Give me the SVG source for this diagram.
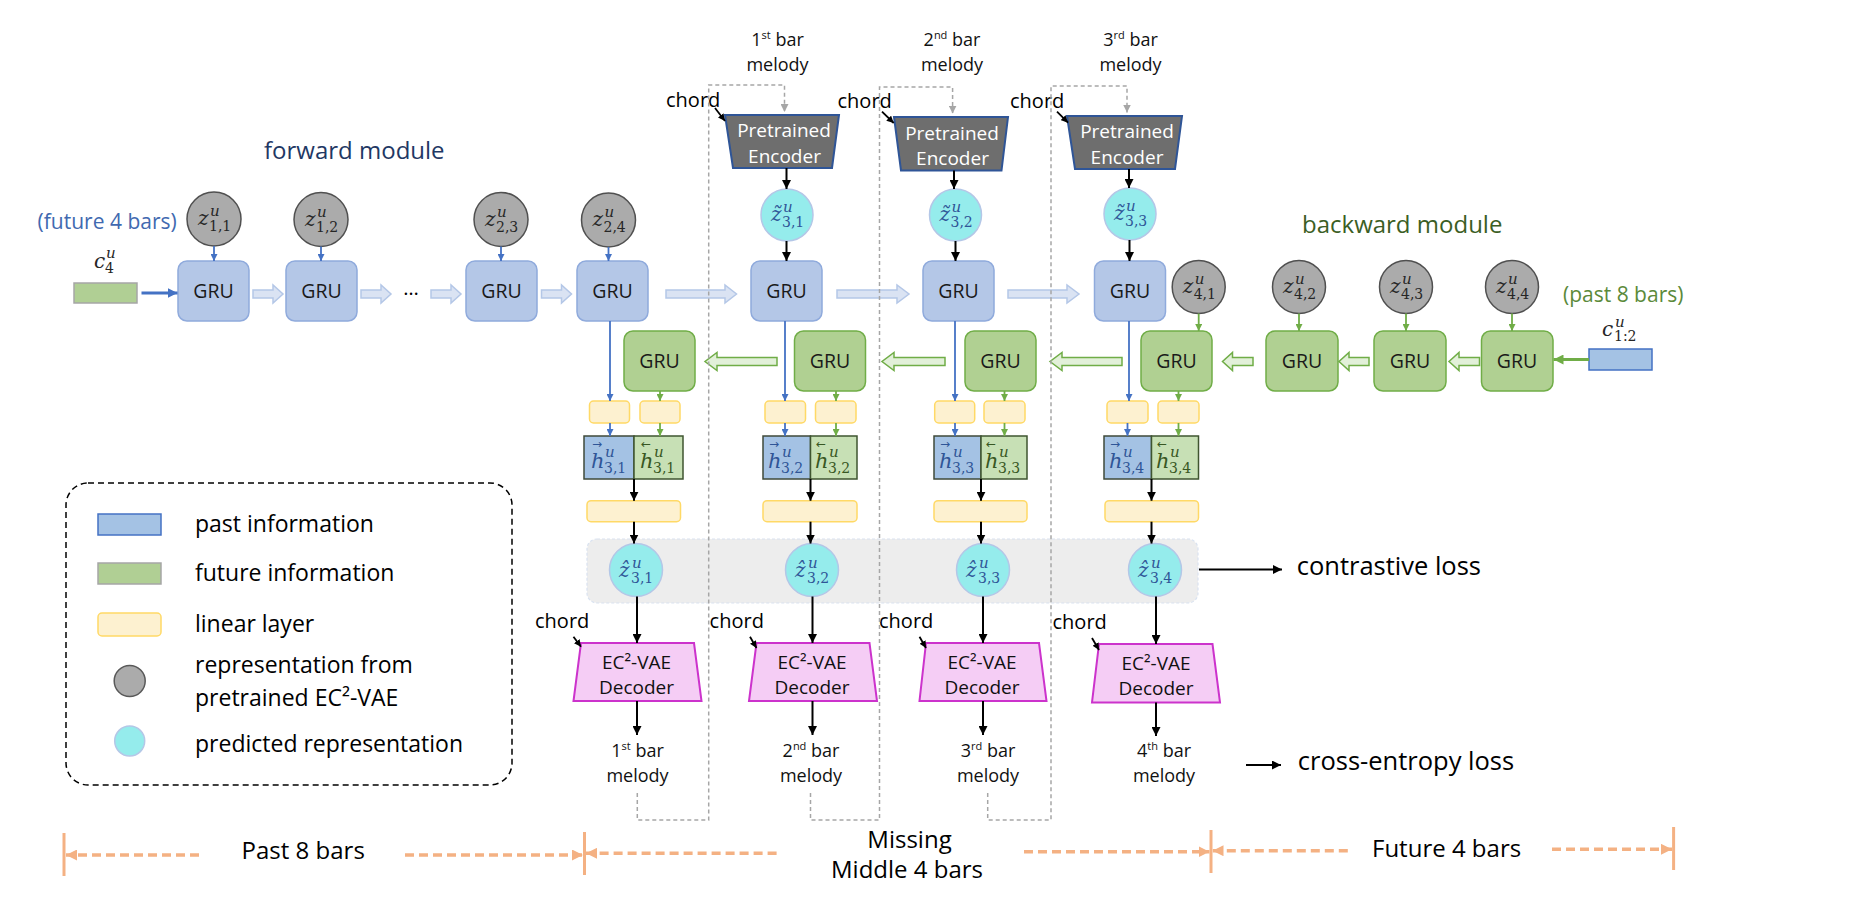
<svg xmlns="http://www.w3.org/2000/svg" width="1872" height="904" viewBox="0 0 1872 904">
<defs>
<style>
text{font-family:"Open Sans","Noto Sans","DejaVu Sans",sans-serif;}
.gb{fill:#B4C7E7;stroke:#8FAADC;stroke-width:1.5}
.gg{fill:#B0D092;stroke:#70AD47;stroke-width:1.5}
.gt{font-size:19.5px;fill:#1a1a1a;text-anchor:middle}
.zc{fill:#ABABAB;stroke:#505050;stroke-width:1.5}
.cc{fill:#95ECEC;stroke:#B4C7E7;stroke-width:1.5}
.lin{fill:#FDF1D0;stroke:#FFD966;stroke-width:1.5}
.hb{fill:#A4C2E4;stroke:#3F4A3A;stroke-width:1.5}
.hg{fill:#C7E0B5;stroke:#3F5530;stroke-width:1.5}
.enc{fill:#6E6E6E;stroke:#2F5597;stroke-width:2}
.dec{fill:#F5CDF5;stroke:#CC33CC;stroke-width:2}
.et{font-size:19px;fill:#ffffff;text-anchor:middle}
.dt{font-size:19px;fill:#111;text-anchor:middle}
.lbl{font-size:18px;fill:#111;text-anchor:middle}
.ch{font-size:20px;fill:#000}
.m{font-family:"DejaVu Serif",serif;font-style:italic;font-size:20px}
.mh{font-size:21px}
.su{font-size:15px}
.s{font-size:14px;font-style:normal}
.zg{fill:#262626}
.zb{fill:#2F5597}
.zgr{fill:#385723}
.ar{font-family:"DejaVu Sans",sans-serif;font-size:12px;font-style:normal}
.hob{fill:#DAE3F3;stroke:#B4C7E7;stroke-width:1.5}
.hog{fill:#E2F0D9;stroke:#70AD47;stroke-width:1.5}
.lb{stroke:#4472C4;stroke-width:1.8;fill:none}
.lg{stroke:#70AD47;stroke-width:1.8;fill:none}
.lk{stroke:#000;stroke-width:2;fill:none}
.lks{stroke:#000;stroke-width:1.8;fill:none}
.dash{stroke:#A6A6A6;stroke-width:1.5;fill:none;stroke-dasharray:4 3}
.or{stroke:#F4B183;stroke-width:3.5;fill:none;stroke-dasharray:9 5}
.ot{stroke:#F4B183;stroke-width:3;fill:none}
.big{font-size:24px;fill:#000}
.loss{font-size:25.5px;fill:#000}
.leg{font-size:23px;fill:#000}
</style>
<marker id="ab" viewBox="0 0 10 10" refX="10" refY="5" markerWidth="7" markerHeight="7" orient="auto" markerUnits="userSpaceOnUse"><path d="M0,0L10,5L0,10z" fill="#4472C4"/></marker>
<marker id="abt" viewBox="0 0 10 10" refX="10" refY="5" markerWidth="10" markerHeight="10" orient="auto" markerUnits="userSpaceOnUse"><path d="M0,0L10,5L0,10z" fill="#4472C4"/></marker>
<marker id="ag" viewBox="0 0 10 10" refX="10" refY="5" markerWidth="7" markerHeight="7" orient="auto" markerUnits="userSpaceOnUse"><path d="M0,0L10,5L0,10z" fill="#70AD47"/></marker>
<marker id="agt" viewBox="0 0 10 10" refX="10" refY="5" markerWidth="10" markerHeight="10" orient="auto" markerUnits="userSpaceOnUse"><path d="M0,0L10,5L0,10z" fill="#70AD47"/></marker>
<marker id="ak" viewBox="0 0 10 10" refX="10" refY="5" markerWidth="9" markerHeight="9" orient="auto" markerUnits="userSpaceOnUse"><path d="M0,0L10,5L0,10z" fill="#000"/></marker>
<marker id="aks" viewBox="0 0 10 10" refX="10" refY="5" markerWidth="7" markerHeight="7" orient="auto" markerUnits="userSpaceOnUse"><path d="M0,0L10,5L0,10z" fill="#000"/></marker>
<marker id="agr" viewBox="0 0 10 10" refX="10" refY="5" markerWidth="8" markerHeight="8" orient="auto" markerUnits="userSpaceOnUse"><path d="M0,0L10,5L0,10z" fill="#A6A6A6"/></marker>
<marker id="ao" viewBox="0 0 10 10" refX="10" refY="5" markerWidth="11" markerHeight="11" orient="auto" markerUnits="userSpaceOnUse"><path d="M0,0L10,5L0,10z" fill="#F4B183"/></marker>
</defs>
<rect width="1872" height="904" fill="#ffffff"/>

<g id="band"><rect x="587" y="539" width="611" height="64" rx="10" fill="#EDEDED" stroke="#D9E2F0" stroke-width="1.2" stroke-dasharray="3 2"/></g>

<g id="titles">
<text x="264" y="159" font-size="24" fill="#1F3864">forward module</text>
<text x="37.6" y="229" font-size="21" fill="#4169B0">(future 4 bars)</text>
<text x="1302" y="232.7" font-size="24" fill="#3B5E24">backward module</text>
<text x="1563" y="301.7" font-size="21" fill="#5B8A3A">(past 8 bars)</text>
</g>

<g id="c4">
<rect x="74" y="283" width="63" height="20" fill="#B0CF94" stroke="#A6A6A6" stroke-width="1.5"/>
<text class="m zg"><tspan x="94" y="268">c</tspan><tspan class="su" x="106" y="258">u</tspan><tspan class="s" x="105" y="273">4</tspan></text>
</g>
<g id="c12">
<rect x="1589" y="349" width="63" height="21" fill="#A4C2E4" stroke="#4472C4" stroke-width="1.5"/>
<text class="m zg"><tspan x="1602" y="336">c</tspan><tspan class="su" x="1615" y="327">u</tspan><tspan class="s" x="1614" y="341">1:2</tspan></text>
</g>

<g id="gru1"><rect class="gb" x="178" y="261" width="71" height="60" rx="9"/><text class="gt" x="213.5" y="298">GRU</text></g>
<g id="gru2"><rect class="gb" x="286" y="261" width="71" height="60" rx="9"/><text class="gt" x="321.5" y="298">GRU</text></g>
<g id="dots"><text x="411" y="295" font-size="20" text-anchor="middle" fill="#000">…</text></g>
<g id="gru3"><rect class="gb" x="466" y="261" width="71" height="60" rx="9"/><text class="gt" x="501.5" y="298">GRU</text></g>
<g id="gru4"><rect class="gb" x="577" y="261" width="71" height="60" rx="9"/><text class="gt" x="612.5" y="298">GRU</text></g>
<g id="gru5"><rect class="gb" x="751" y="261" width="71" height="60" rx="9"/><text class="gt" x="786.5" y="298">GRU</text></g>
<g id="gru6"><rect class="gb" x="923" y="261" width="71" height="60" rx="9"/><text class="gt" x="958.5" y="298">GRU</text></g>
<g id="gru7"><rect class="gb" x="1094.5" y="261" width="71" height="60" rx="9"/><text class="gt" x="1130" y="298">GRU</text></g>

<g id="z11"><circle class="zc" cx="214" cy="219" r="27"/><text class="m zg"><tspan x="198" y="225">z</tspan><tspan class="su" x="210" y="216">u</tspan><tspan class="s" x="209" y="231">1,1</tspan></text></g>
<g id="z12"><circle class="zc" cx="321" cy="219.5" r="27"/><text class="m zg"><tspan x="305" y="225.5">z</tspan><tspan class="su" x="317" y="216.5">u</tspan><tspan class="s" x="316" y="231.5">1,2</tspan></text></g>
<g id="z23"><circle class="zc" cx="501" cy="219.5" r="27"/><text class="m zg"><tspan x="485" y="225.5">z</tspan><tspan class="su" x="497" y="216.5">u</tspan><tspan class="s" x="496" y="231.5">2,3</tspan></text></g>
<g id="z24"><circle class="zc" cx="608.5" cy="220" r="27"/><text class="m zg"><tspan x="592.5" y="226">z</tspan><tspan class="su" x="604.5" y="217">u</tspan><tspan class="s" x="603.5" y="232">2,4</tspan></text></g>

<g id="enc1"><polygon class="enc" points="725,115 839,115 832,168 733,168"/><text class="et" x="784" y="137">Pretrained</text><text class="et" x="784.5" y="163">Encoder</text></g>
<g id="enc2"><polygon class="enc" points="894,117 1008,117 1001.5,170.5 901,170.5"/><text class="et" x="952" y="139.5">Pretrained</text><text class="et" x="952.5" y="165.3">Encoder</text></g>
<g id="enc3"><polygon class="enc" points="1067,116 1182,116 1175,169 1075,169"/><text class="et" x="1127" y="137.5">Pretrained</text><text class="et" x="1127" y="163.5">Encoder</text></g>

<g id="top-labels">
<text class="lbl" x="777.5" y="46">1<tspan font-size="11" dy="-7">st</tspan><tspan dy="7"> bar</tspan></text>
<text class="lbl" x="777.5" y="70.7">melody</text>
<text class="lbl" x="952" y="46">2<tspan font-size="11" dy="-7">nd</tspan><tspan dy="7"> bar</tspan></text>
<text class="lbl" x="952" y="70.7">melody</text>
<text class="lbl" x="1130.5" y="46">3<tspan font-size="11" dy="-7">rd</tspan><tspan dy="7"> bar</tspan></text>
<text class="lbl" x="1130.5" y="70.7">melody</text>
<text class="ch" x="666" y="107">chord</text>
<text class="ch" x="837.5" y="108">chord</text>
<text class="ch" x="1010" y="108.3">chord</text>
</g>

<g id="zt31"><circle class="cc" cx="787" cy="215" r="26"/><text class="m zb"><tspan x="771" y="221">z̃</tspan><tspan class="su" x="783" y="212">u</tspan><tspan class="s" x="782" y="227">3,1</tspan></text></g>
<g id="zt32"><circle class="cc" cx="955.5" cy="215" r="26"/><text class="m zb"><tspan x="939.5" y="221">z̃</tspan><tspan class="su" x="951.5" y="212">u</tspan><tspan class="s" x="950.5" y="227">3,2</tspan></text></g>
<g id="zt33"><circle class="cc" cx="1130" cy="214" r="26"/><text class="m zb"><tspan x="1114" y="220">z̃</tspan><tspan class="su" x="1126" y="211">u</tspan><tspan class="s" x="1125" y="226">3,3</tspan></text></g>

<g id="bgru1"><rect class="gg" x="624" y="331" width="71" height="60" rx="9"/><text class="gt" x="659.5" y="368">GRU</text></g>
<g id="bgru2"><rect class="gg" x="794.5" y="331" width="71" height="60" rx="9"/><text class="gt" x="830" y="368">GRU</text></g>
<g id="bgru3"><rect class="gg" x="965" y="331" width="71" height="60" rx="9"/><text class="gt" x="1000.5" y="368">GRU</text></g>
<g id="bgru4"><rect class="gg" x="1141" y="331" width="71" height="60" rx="9"/><text class="gt" x="1176.5" y="368">GRU</text></g>
<g id="bgru5"><rect class="gg" x="1266" y="331" width="72" height="60" rx="9"/><text class="gt" x="1302" y="368">GRU</text></g>
<g id="bgru6"><rect class="gg" x="1374" y="331" width="72" height="60" rx="9"/><text class="gt" x="1410" y="368">GRU</text></g>
<g id="bgru7"><rect class="gg" x="1481.5" y="331" width="71.5" height="60" rx="9"/><text class="gt" x="1517" y="368">GRU</text></g>

<g id="z41"><circle class="zc" cx="1198.7" cy="287" r="26.5"/><text class="m zg"><tspan x="1182.7" y="293">z</tspan><tspan class="su" x="1194.7" y="284">u</tspan><tspan class="s" x="1193.7" y="299">4,1</tspan></text></g>
<g id="z42"><circle class="zc" cx="1299" cy="287" r="26.5"/><text class="m zg"><tspan x="1283" y="293">z</tspan><tspan class="su" x="1295" y="284">u</tspan><tspan class="s" x="1294" y="299">4,2</tspan></text></g>
<g id="z43"><circle class="zc" cx="1406" cy="287" r="26.5"/><text class="m zg"><tspan x="1390" y="293">z</tspan><tspan class="su" x="1402" y="284">u</tspan><tspan class="s" x="1401" y="299">4,3</tspan></text></g>
<g id="z44"><circle class="zc" cx="1512" cy="287" r="26.5"/><text class="m zg"><tspan x="1496" y="293">z</tspan><tspan class="su" x="1508" y="284">u</tspan><tspan class="s" x="1507" y="299">4,4</tspan></text></g>

<g id="lin-small">
<rect class="lin" x="589.5" y="401" width="40" height="22" rx="4"/><rect class="lin" x="640" y="401" width="40" height="22" rx="4"/>
<rect class="lin" x="765" y="401" width="40.5" height="22" rx="4"/><rect class="lin" x="815.5" y="401" width="40.5" height="22" rx="4"/>
<rect class="lin" x="934.7" y="401" width="40" height="22" rx="4"/><rect class="lin" x="984" y="401" width="41" height="22" rx="4"/>
<rect class="lin" x="1107" y="401" width="41" height="22" rx="4"/><rect class="lin" x="1158" y="401" width="41" height="22" rx="4"/>
</g>

<g id="h1"><rect class="hb" x="584" y="436" width="50" height="43"/><rect class="hg" x="634" y="436" width="49" height="43"/>
<text class="m zb"><tspan class="ar" x="592" y="448">→</tspan><tspan class="mh" x="591" y="468">h</tspan><tspan class="su" x="605" y="457">u</tspan><tspan class="s" x="604" y="473">3,1</tspan></text>
<text class="m zgr"><tspan class="ar" x="641" y="448">←</tspan><tspan class="mh" x="640" y="468">h</tspan><tspan class="su" x="654" y="457">u</tspan><tspan class="s" x="653" y="473">3,1</tspan></text></g>
<g id="h2"><rect class="hb" x="763" y="436" width="47.5" height="43"/><rect class="hg" x="810.5" y="436" width="46.5" height="43"/>
<text class="m zb"><tspan class="ar" x="769" y="448">→</tspan><tspan class="mh" x="768" y="468">h</tspan><tspan class="su" x="782" y="457">u</tspan><tspan class="s" x="781" y="473">3,2</tspan></text>
<text class="m zgr"><tspan class="ar" x="816" y="448">←</tspan><tspan class="mh" x="815" y="468">h</tspan><tspan class="su" x="829" y="457">u</tspan><tspan class="s" x="828" y="473">3,2</tspan></text></g>
<g id="h3"><rect class="hb" x="934" y="436" width="47" height="43"/><rect class="hg" x="981" y="436" width="46" height="43"/>
<text class="m zb"><tspan class="ar" x="940" y="448">→</tspan><tspan class="mh" x="939" y="468">h</tspan><tspan class="su" x="953" y="457">u</tspan><tspan class="s" x="952" y="473">3,3</tspan></text>
<text class="m zgr"><tspan class="ar" x="986" y="448">←</tspan><tspan class="mh" x="985" y="468">h</tspan><tspan class="su" x="999" y="457">u</tspan><tspan class="s" x="998" y="473">3,3</tspan></text></g>
<g id="h4"><rect class="hb" x="1104" y="436" width="47.5" height="43"/><rect class="hg" x="1151.5" y="436" width="47" height="43"/>
<text class="m zb"><tspan class="ar" x="1110" y="448">→</tspan><tspan class="mh" x="1109" y="468">h</tspan><tspan class="su" x="1123" y="457">u</tspan><tspan class="s" x="1122" y="473">3,4</tspan></text>
<text class="m zgr"><tspan class="ar" x="1157" y="448">←</tspan><tspan class="mh" x="1156" y="468">h</tspan><tspan class="su" x="1170" y="457">u</tspan><tspan class="s" x="1169" y="473">3,4</tspan></text></g>

<g id="lin-long">
<rect class="lin" x="587" y="500.7" width="93.5" height="21" rx="4"/>
<rect class="lin" x="763" y="500.7" width="94" height="21" rx="4"/>
<rect class="lin" x="934" y="500.7" width="93" height="21" rx="4"/>
<rect class="lin" x="1105" y="500.7" width="93.5" height="21" rx="4"/>
</g>

<g id="zh1"><circle class="cc" cx="636" cy="570" r="26.5"/><text class="m zb"><tspan x="619" y="577">ẑ</tspan><tspan class="su" x="632" y="568">u</tspan><tspan class="s" x="631" y="583">3,1</tspan></text></g>
<g id="zh2"><circle class="cc" cx="812" cy="570" r="26.5"/><text class="m zb"><tspan x="795" y="577">ẑ</tspan><tspan class="su" x="808" y="568">u</tspan><tspan class="s" x="807" y="583">3,2</tspan></text></g>
<g id="zh3"><circle class="cc" cx="983" cy="570" r="26.5"/><text class="m zb"><tspan x="966" y="577">ẑ</tspan><tspan class="su" x="979" y="568">u</tspan><tspan class="s" x="978" y="583">3,3</tspan></text></g>
<g id="zh4"><circle class="cc" cx="1155" cy="570" r="26.5"/><text class="m zb"><tspan x="1138" y="577">ẑ</tspan><tspan class="su" x="1151" y="568">u</tspan><tspan class="s" x="1150" y="583">3,4</tspan></text></g>

<g id="dec1"><polygon class="dec" points="581,643 694,643 701.5,701 573.5,701"/><text class="dt" x="636.5" y="668.5">EC²-VAE</text><text class="dt" x="636.5" y="693.5">Decoder</text></g>
<g id="dec2"><polygon class="dec" points="756.5,643 869.5,643 877,701 749,701"/><text class="dt" x="812" y="668.5">EC²-VAE</text><text class="dt" x="812" y="693.5">Decoder</text></g>
<g id="dec3"><polygon class="dec" points="926,643 1039,643 1046.5,701 919.5,701"/><text class="dt" x="982" y="668.5">EC²-VAE</text><text class="dt" x="982" y="693.5">Decoder</text></g>
<g id="dec4"><polygon class="dec" points="1099,644 1212.5,644 1220,702.5 1092,702.5"/><text class="dt" x="1156" y="670">EC²-VAE</text><text class="dt" x="1156" y="695">Decoder</text></g>

<g id="bottom-labels">
<text class="ch" x="535" y="628.3">chord</text>
<text class="ch" x="709.6" y="628.3">chord</text>
<text class="ch" x="879" y="628.3">chord</text>
<text class="ch" x="1052.5" y="629">chord</text>
<text class="lbl" x="637.5" y="756.7">1<tspan font-size="11" dy="-7">st</tspan><tspan dy="7"> bar</tspan></text>
<text class="lbl" x="637.5" y="781.7">melody</text>
<text class="lbl" x="811" y="756.7">2<tspan font-size="11" dy="-7">nd</tspan><tspan dy="7"> bar</tspan></text>
<text class="lbl" x="811" y="781.7">melody</text>
<text class="lbl" x="988" y="756.7">3<tspan font-size="11" dy="-7">rd</tspan><tspan dy="7"> bar</tspan></text>
<text class="lbl" x="988" y="781.7">melody</text>
<text class="lbl" x="1164" y="756.7">4<tspan font-size="11" dy="-7">th</tspan><tspan dy="7"> bar</tspan></text>
<text class="lbl" x="1164" y="781.7">melody</text>
</g>

<g id="losses">
<text class="loss" x="1296.7" y="575">contrastive loss</text>
<text class="loss" x="1297.8" y="770">cross-entropy loss</text>
</g>

<g id="legend">
<rect x="66" y="483" width="446" height="302" rx="22" fill="none" stroke="#000" stroke-width="1.5" stroke-dasharray="6 4"/>
<rect x="98" y="514" width="63" height="21" fill="#A4C2E4" stroke="#4472C4" stroke-width="1.5"/>
<text class="leg" x="195" y="531.7">past information</text>
<rect x="98" y="563" width="63" height="21" fill="#B0CF94" stroke="#A6A6A6" stroke-width="1.5"/>
<text class="leg" x="195" y="580.7">future information</text>
<rect x="98" y="613" width="63" height="23" rx="4" fill="#FDF1D0" stroke="#FFD966" stroke-width="1.5"/>
<text class="leg" x="195" y="631.7">linear layer</text>
<circle cx="129.7" cy="681" r="15.5" fill="#ABABAB" stroke="#595959" stroke-width="1.5"/>
<text class="leg" x="195" y="673.3">representation from</text>
<text class="leg" x="195" y="706">pretrained EC²-VAE</text>
<circle cx="129.7" cy="741" r="15" fill="#95ECEC" stroke="#B4C7E7" stroke-width="1.5"/>
<text class="leg" x="195" y="751.7">predicted representation</text>
</g>

<g id="timeline">
<line class="ot" x1="64" y1="833" x2="64" y2="876"/>
<line class="ot" x1="584.5" y1="832" x2="584.5" y2="875"/>
<line class="ot" x1="1211" y1="830" x2="1211" y2="873"/>
<line class="ot" x1="1673.6" y1="827" x2="1673.6" y2="870"/>
<text class="big" x="241.6" y="859.3">Past 8 bars</text>
<text class="big" x="909.5" y="848" text-anchor="middle">Missing</text>
<text class="big" x="907" y="878.3" text-anchor="middle">Middle 4 bars</text>
<text class="big" x="1372" y="856.7">Future 4 bars</text>
</g>

<g id="connectors">
<path class="hob" d="M253,290H273V285L283,294L273,303V298H253Z"/>
<path class="hob" d="M361,290H381V285L391,294L381,303V298H361Z"/>
<path class="hob" d="M431,290H451V285L461,294L451,303V298H431Z"/>
<path class="hob" d="M541.5,290H561.5V285L571.5,294L561.5,303V298H541.5Z"/>
<path class="hob" d="M666,290H725V285L736.5,294L725,303V298H666Z"/>
<path class="hob" d="M837,290H897V285L909,294L897,303V298H837Z"/>
<path class="hob" d="M1008,290H1067V285L1079,294L1067,303V298H1008Z"/>
<path class="hog" d="M1479.5,357.5H1459V352.5L1449,361.5L1459,370.5V365.5H1479.5Z"/>
<path class="hog" d="M1369,357.5H1349V352.5L1339,361.5L1349,370.5V365.5H1369Z"/>
<path class="hog" d="M1253,357.5H1232.5V352.5L1222.5,361.5L1232.5,370.5V365.5H1253Z"/>
<path class="hog" d="M1122,357.5H1062V352.5L1050,361.5L1062,370.5V365.5H1122Z"/>
<path class="hog" d="M945,357.5H894V352.5L882,361.5L894,370.5V365.5H945Z"/>
<path class="hog" d="M777,357.5H717V352.5L705,361.5L717,370.5V365.5H777Z"/>
<line x1="141.5" y1="293" x2="177.5" y2="293" stroke="#4472C4" stroke-width="3" marker-end="url(#abt)"/>
<line x1="1589" y1="359.5" x2="1553.5" y2="359.5" stroke="#70AD47" stroke-width="3" marker-end="url(#agt)"/>
<line class="lb" x1="214" y1="246" x2="214" y2="261" marker-end="url(#ab)"/>
<line class="lb" x1="321" y1="246.5" x2="321" y2="261" marker-end="url(#ab)"/>
<line class="lb" x1="501" y1="246.5" x2="501" y2="261" marker-end="url(#ab)"/>
<line class="lb" x1="608.5" y1="247" x2="608.5" y2="261" marker-end="url(#ab)"/>
<line class="lg" x1="1198.7" y1="313.5" x2="1198.7" y2="331" marker-end="url(#ag)"/>
<line class="lg" x1="1299" y1="313.5" x2="1299" y2="331" marker-end="url(#ag)"/>
<line class="lg" x1="1406" y1="313.5" x2="1406" y2="331" marker-end="url(#ag)"/>
<line class="lg" x1="1512" y1="313.5" x2="1512" y2="331" marker-end="url(#ag)"/>
<line class="lk" x1="786.5" y1="168" x2="786.5" y2="189" marker-end="url(#ak)"/>
<line class="lk" x1="786.5" y1="241" x2="786.5" y2="261" marker-end="url(#ak)"/>
<line class="lk" x1="954" y1="170.5" x2="954" y2="189" marker-end="url(#ak)"/>
<line class="lk" x1="955.5" y1="241" x2="955.5" y2="261" marker-end="url(#ak)"/>
<line class="lk" x1="1129" y1="169" x2="1129" y2="188" marker-end="url(#ak)"/>
<line class="lk" x1="1129.5" y1="240" x2="1129.5" y2="261" marker-end="url(#ak)"/>
<line class="lks" x1="715" y1="108" x2="725" y2="121" marker-end="url(#aks)"/>
<line class="lks" x1="882" y1="111.7" x2="893.7" y2="123" marker-end="url(#aks)"/>
<line class="lks" x1="1057" y1="111.7" x2="1068" y2="122.7" marker-end="url(#aks)"/>
<line class="lb" x1="610" y1="321" x2="610" y2="401" marker-end="url(#ab)"/>
<line class="lb" x1="785" y1="321" x2="785" y2="401" marker-end="url(#ab)"/>
<line class="lb" x1="955" y1="321" x2="955" y2="401" marker-end="url(#ab)"/>
<line class="lb" x1="1129" y1="321" x2="1129" y2="401" marker-end="url(#ab)"/>
<line class="lg" x1="660" y1="391" x2="660" y2="401" marker-end="url(#ag)"/>
<line class="lg" x1="836" y1="391" x2="836" y2="401" marker-end="url(#ag)"/>
<line class="lg" x1="1004.5" y1="391" x2="1004.5" y2="401" marker-end="url(#ag)"/>
<line class="lg" x1="1178.5" y1="391" x2="1178.5" y2="401" marker-end="url(#ag)"/>
<line class="lb" x1="610" y1="423" x2="610" y2="436" marker-end="url(#ab)"/>
<line class="lg" x1="660" y1="423" x2="660" y2="436" marker-end="url(#ag)"/>
<line class="lb" x1="785" y1="423" x2="785" y2="436" marker-end="url(#ab)"/>
<line class="lg" x1="836" y1="423" x2="836" y2="436" marker-end="url(#ag)"/>
<line class="lb" x1="955" y1="423" x2="955" y2="436" marker-end="url(#ab)"/>
<line class="lg" x1="1004.5" y1="423" x2="1004.5" y2="436" marker-end="url(#ag)"/>
<line class="lb" x1="1127.5" y1="423" x2="1127.5" y2="436" marker-end="url(#ab)"/>
<line class="lg" x1="1178.5" y1="423" x2="1178.5" y2="436" marker-end="url(#ag)"/>
<line class="lk" x1="634" y1="479" x2="634" y2="500.7" marker-end="url(#ak)"/>
<line class="lk" x1="810.5" y1="479" x2="810.5" y2="500.7" marker-end="url(#ak)"/>
<line class="lk" x1="981" y1="479" x2="981" y2="500.7" marker-end="url(#ak)"/>
<line class="lk" x1="1151.5" y1="479" x2="1151.5" y2="500.7" marker-end="url(#ak)"/>
<line class="lk" x1="634" y1="521.7" x2="634" y2="543.5" marker-end="url(#ak)"/>
<line class="lk" x1="810.5" y1="521.7" x2="810.5" y2="543.5" marker-end="url(#ak)"/>
<line class="lk" x1="981" y1="521.7" x2="981" y2="543.5" marker-end="url(#ak)"/>
<line class="lk" x1="1151.5" y1="521.7" x2="1151.5" y2="543.5" marker-end="url(#ak)"/>
<line class="lk" x1="637" y1="596.5" x2="637" y2="643" marker-end="url(#ak)"/>
<line class="lk" x1="812.5" y1="596.5" x2="812.5" y2="643" marker-end="url(#ak)"/>
<line class="lk" x1="983" y1="596.5" x2="983" y2="643" marker-end="url(#ak)"/>
<line class="lk" x1="1156" y1="596.5" x2="1156" y2="644" marker-end="url(#ak)"/>
<line class="lks" x1="573.5" y1="636.7" x2="581" y2="646.7" marker-end="url(#aks)"/>
<line class="lks" x1="750" y1="636.7" x2="756.5" y2="648" marker-end="url(#aks)"/>
<line class="lks" x1="919.5" y1="636.7" x2="926" y2="648" marker-end="url(#aks)"/>
<line class="lks" x1="1092" y1="638" x2="1099" y2="650" marker-end="url(#aks)"/>
<line class="lk" x1="637" y1="701" x2="637" y2="735" marker-end="url(#ak)"/>
<line class="lk" x1="812.5" y1="701" x2="812.5" y2="735" marker-end="url(#ak)"/>
<line class="lk" x1="983" y1="701" x2="983" y2="735" marker-end="url(#ak)"/>
<line class="lk" x1="1156" y1="702.5" x2="1156" y2="736" marker-end="url(#ak)"/>
<line class="lk" x1="1199" y1="569.5" x2="1282" y2="569.5" marker-end="url(#ak)"/>
<line class="lk" x1="1246" y1="765" x2="1281" y2="765" marker-end="url(#ak)"/>
<path class="dash" d="M637.3,793V820H708.7V85H784.5V112" marker-end="url(#agr)"/>
<path class="dash" d="M810.5,793V820H879.5V87H952.6V113.5" marker-end="url(#agr)"/>
<path class="dash" d="M987.7,793V820H1051V86H1127V112.5" marker-end="url(#agr)"/>
<line class="or" x1="199" y1="855" x2="66" y2="855" marker-end="url(#ao)"/>
<line class="or" x1="405" y1="855" x2="583" y2="855" marker-end="url(#ao)"/>
<line class="or" x1="776.6" y1="853.3" x2="586" y2="853.3" marker-end="url(#ao)"/>
<line class="or" x1="1024" y1="851.7" x2="1209.5" y2="851.7" marker-end="url(#ao)"/>
<line class="or" x1="1347.8" y1="850.7" x2="1212.5" y2="850.7" marker-end="url(#ao)"/>
<line class="or" x1="1552" y1="849.3" x2="1672" y2="849.3" marker-end="url(#ao)"/>
</g>
</svg>
